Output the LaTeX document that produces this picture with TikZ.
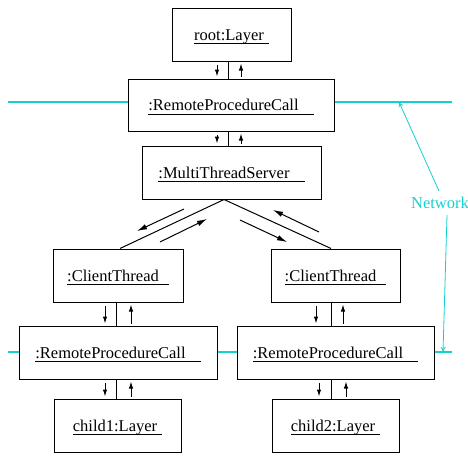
\documentclass[tikz,border=0pt]{standalone}
\usepackage{fontspec}
\setmainfont{Liberation Serif}
\usetikzlibrary{arrows.meta,calc}
\definecolor{net}{RGB}{20,208,208}
\newcommand\objlab[2]{\setbox0\hbox{#1\hspace{#2pt}}\rule{0pt}{15.5pt}\rlap{\rule[-3.6pt]{\wd0}{1pt}}\box0}
\tikzset{
  obj/.style={draw,line width=1pt,rectangle,inner sep=0pt,font=\fontsize{16.5}{20}\selectfont},
  sarr/.style={line width=1pt,-{Latex[length=7pt,width=4.5pt]}},
  marr/.style={line width=1pt,-{Latex[length=10pt,width=5.5pt]}},
  netline/.style={net,line width=2pt},
  netarr/.style={net,line width=0.8pt,-{To[length=5pt,width=5pt]}},
  conn/.style={line width=1pt}
}
\begin{document}
\begin{tikzpicture}[x=1pt,y=-1pt]
\useasboundingbox (0,0) rectangle (468,455);
\node[obj,minimum width=119,minimum height=53] (root) at (231.5,34.5) {\objlab{root:Layer}{5}};
\node[obj,minimum width=206,minimum height=52] (rpcT) at (231,105) {\objlab{:RemoteProcedureCall}{15}};
\node[obj,minimum width=179,minimum height=53] (mts) at (231.5,172.5) {\objlab{:MultiThreadServer}{15}};
\node[obj,minimum width=130,minimum height=53] (ctL) at (118,275.5) {\objlab{:ClientThread}{10}};
\node[obj,minimum width=129,minimum height=53] (ctR) at (335.5,275.5) {\objlab{:ClientThread}{10}};
\node[obj,minimum width=198,minimum height=53] (rpcL) at (118,352.5) {\objlab{:RemoteProcedureCall}{15}};
\node[obj,minimum width=197,minimum height=53] (rpcR) at (335.5,352.5) {\objlab{:RemoteProcedureCall}{15}};
\node[obj,minimum width=127,minimum height=53] (c1) at (117.5,425.5) {\objlab{child1:Layer}{5}};
\node[obj,minimum width=127,minimum height=53] (c2) at (335.5,425.5) {\objlab{child2:Layer}{5}};
% vertical links: #1 upper, #2 lower, #3 x of line, #4 x of down arrow, #5 x of up arrow
\newcommand\vlink[5]{%
  \draw[conn] (#1.south -| #3,0) -- (#2.north -| #3,0);
  \draw[sarr] ($(#1.south -| #4,0)+(0,3.5)$) -- ($(#2.north -| #4,0)+(0,-2)$);
  \draw[sarr] ($(#2.north -| #5,0)+(0,-2)$) -- ($(#1.south -| #5,0)+(0,2)$);
}
\vlink{root}{rpcT}{228}{217}{241}
\vlink{rpcT}{mts}{228}{217}{241}
\vlink{ctL}{rpcL}{116}{105}{131}
\vlink{ctR}{rpcR}{331}{316}{343}
\vlink{rpcL}{c1}{116}{105}{131}
\vlink{rpcR}{c2}{331}{319}{346}
% diagonal links
\draw[conn] (mts.south -| 224,0) -- (ctL.north -| 120,0);
\draw[conn] (mts.south -| 224,0) -- (ctR.north -| 331,0);
\draw[marr] (184,209) -- (137,231);
\draw[marr] (160,242) -- (207,219);
\draw[marr] (240,220) -- (287,242);
\draw[marr] (319,232) -- (273,210);
% network
\draw[netline] (8,102) -- (rpcT.west |- 0,102);
\draw[netline] (rpcT.east |- 0,102) -- (452,102);
\draw[netline] (8,352) -- (rpcL.west |- 0,352);
\draw[netline] (rpcL.east |- 0,352) -- (rpcR.west |- 0,352);
\draw[netline] (rpcR.east |- 0,352) -- (452,352);
\node[net,font=\fontsize{16.5}{20}\selectfont,inner sep=0pt] (nw) at (440,203) {Network};
\coordinate (nt) at (399,102);
\coordinate (nb) at (443,352);
\draw[netarr] (439,191) -- (nt);
\draw[netarr] (447,215) -- (nb);
\end{tikzpicture}
\end{document}
